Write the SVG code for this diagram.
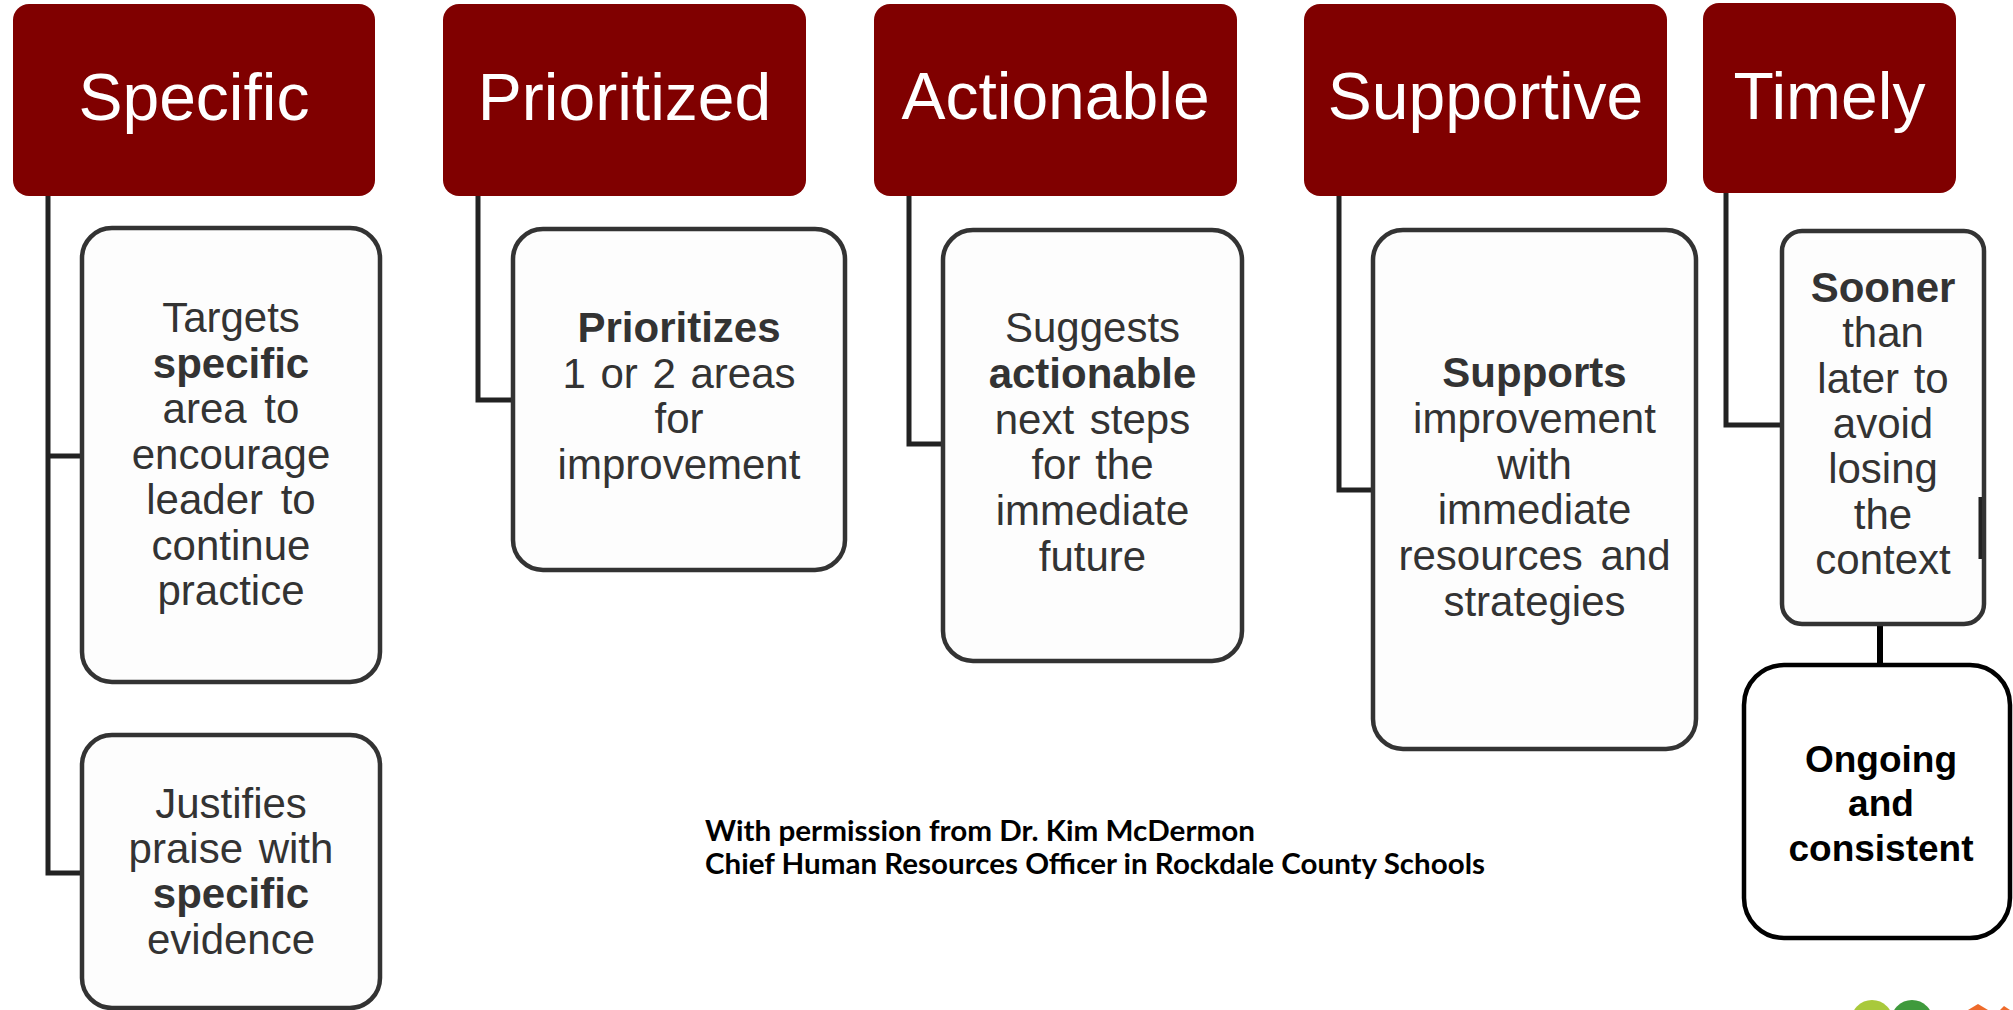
<svg xmlns="http://www.w3.org/2000/svg" width="2013" height="1010" viewBox="0 0 2013 1010">
<style>
.hdr{fill:#800000}
.htxt{font-family:"Liberation Sans",Arial,sans-serif;font-size:66px;fill:#ffffff;text-anchor:middle}
.box{fill:#fdfdfd;stroke:#333333;stroke-width:4.5}
.btxt{font-family:"Liberation Sans",Arial,sans-serif;font-size:42px;fill:#333333;text-anchor:middle}
.b{font-weight:bold}
.conn{fill:none;stroke:#222222;stroke-width:5;stroke-linejoin:miter}
.foot{font-family:Lato,"Liberation Sans",sans-serif;font-size:29px;font-weight:bold;fill:#000000}
</style>
<rect width="2013" height="1010" fill="#ffffff"/>

<g id="connectors">
  <path class="conn" d="M48,196 V873 H82"/>
  <path class="conn" d="M48,456 H82"/>
  <path class="conn" d="M478,195 V400 H513"/>
  <path class="conn" d="M909,195 V444 H943"/>
  <path class="conn" d="M1339,195 V490 H1373"/>
  <path class="conn" d="M1726,193 V425 H1782"/>
  <path d="M1880,624 V665" fill="none" stroke="#000000" stroke-width="6"/>
</g>

<g id="specific">
  <rect class="hdr" x="13" y="4" width="362" height="192" rx="16"/>
  <text class="htxt" x="194" y="120">Specific</text>
</g>
<g id="prioritized">
  <rect class="hdr" x="443" y="4" width="363" height="192" rx="16"/>
  <text class="htxt" x="624.5" y="120">Prioritized</text>
</g>
<g id="actionable">
  <rect class="hdr" x="874" y="4" width="363" height="192" rx="16"/>
  <text class="htxt" x="1055.5" y="119">Actionable</text>
</g>
<g id="supportive">
  <rect class="hdr" x="1304" y="4" width="363" height="192" rx="16"/>
  <text class="htxt" x="1485.5" y="119">Supportive</text>
</g>
<g id="timely">
  <rect class="hdr" x="1703" y="3" width="253" height="190" rx="16"/>
  <text class="htxt" x="1829.5" y="119">Timely</text>
</g>

<g id="specific-targets">
  <rect class="box" x="82" y="228" width="298" height="454" rx="30"/>
  <text class="btxt" x="231" y="332">Targets</text>
  <text class="btxt b" x="231" y="377.5">specific</text>
  <text class="btxt" x="231" y="423" word-spacing="6">area to</text>
  <text class="btxt" x="231" y="468.5">encourage</text>
  <text class="btxt" x="231" y="514" word-spacing="6">leader to</text>
  <text class="btxt" x="231" y="559.5">continue</text>
  <text class="btxt" x="231" y="605">practice</text>
</g>
<g id="specific-justifies">
  <rect class="box" x="82" y="735" width="298" height="273" rx="30"/>
  <text class="btxt" x="231" y="818">Justifies</text>
  <text class="btxt" x="231" y="863" word-spacing="4">praise with</text>
  <text class="btxt b" x="231" y="908">specific</text>
  <text class="btxt" x="231" y="954">evidence</text>
</g>
<g id="prioritized-child">
  <rect class="box" x="513" y="229" width="332" height="341" rx="30"/>
  <text class="btxt b" x="679" y="342">Prioritizes</text>
  <text class="btxt" x="679" y="387.5" word-spacing="3">1 or 2 areas</text>
  <text class="btxt" x="679" y="433">for</text>
  <text class="btxt" x="679" y="478.5">improvement</text>
</g>
<g id="actionable-child">
  <rect class="box" x="943" y="230" width="299" height="431" rx="30"/>
  <text class="btxt" x="1092.5" y="342">Suggests</text>
  <text class="btxt b" x="1092.5" y="387.8">actionable</text>
  <text class="btxt" x="1092.5" y="433.6" word-spacing="4">next steps</text>
  <text class="btxt" x="1092.5" y="479.4" word-spacing="3">for the</text>
  <text class="btxt" x="1092.5" y="525.2">immediate</text>
  <text class="btxt" x="1092.5" y="571">future</text>
</g>
<g id="supportive-child">
  <rect class="box" x="1373" y="230" width="323" height="519" rx="30"/>
  <text class="btxt b" x="1534.5" y="387">Supports</text>
  <text class="btxt" x="1534.5" y="432.8">improvement</text>
  <text class="btxt" x="1534.5" y="478.6">with</text>
  <text class="btxt" x="1534.5" y="524.4">immediate</text>
  <text class="btxt" x="1534.5" y="570.2" word-spacing="6">resources and</text>
  <text class="btxt" x="1534.5" y="616">strategies</text>
</g>
<g id="timely-child">
  <rect class="box" x="1782" y="231" width="202" height="393" rx="20"/>
  <rect x="1978.5" y="497" width="3.5" height="62" fill="#222222"/>
  <text class="btxt b" x="1883" y="302">Sooner</text>
  <text class="btxt" x="1883" y="347.3">than</text>
  <text class="btxt" x="1883" y="392.6" word-spacing="3">later to</text>
  <text class="btxt" x="1883" y="437.9">avoid</text>
  <text class="btxt" x="1883" y="483.2">losing</text>
  <text class="btxt" x="1883" y="528.5">the</text>
  <text class="btxt" x="1883" y="573.8">context</text>
</g>
<g id="ongoing">
  <rect x="1744" y="665" width="266" height="273" rx="40" fill="#ffffff" stroke="#000000" stroke-width="4.5"/>
  <text x="1881" y="772" font-family="'Liberation Sans',Arial,sans-serif" font-size="37" font-weight="bold" fill="#000000" text-anchor="middle">Ongoing</text>
  <text x="1881" y="816" font-family="'Liberation Sans',Arial,sans-serif" font-size="37" font-weight="bold" fill="#000000" text-anchor="middle">and</text>
  <text x="1881" y="861" font-family="'Liberation Sans',Arial,sans-serif" font-size="37" font-weight="bold" fill="#000000" text-anchor="middle">consistent</text>
</g>

<g id="credit">
  <text class="foot" x="705" y="841" textLength="550" lengthAdjust="spacingAndGlyphs">With permission from Dr. Kim McDermon</text>
  <text class="foot" x="705" y="874" textLength="780" lengthAdjust="spacingAndGlyphs">Chief Human Resources Officer in Rockdale County Schools</text>
</g>

<g id="logo">
  <circle cx="1872" cy="1021" r="21" fill="#a9c93b"/>
  <circle cx="1912" cy="1021" r="21" fill="#3f9a3c"/>
  <path d="M1968,1010 L1978,1004 L1988,1010 Z" fill="#ee6a2b"/>
  <path d="M2000,1010 L2004,1006 L2010,1010 Z" fill="#ee6a2b"/>
</g>
</svg>
